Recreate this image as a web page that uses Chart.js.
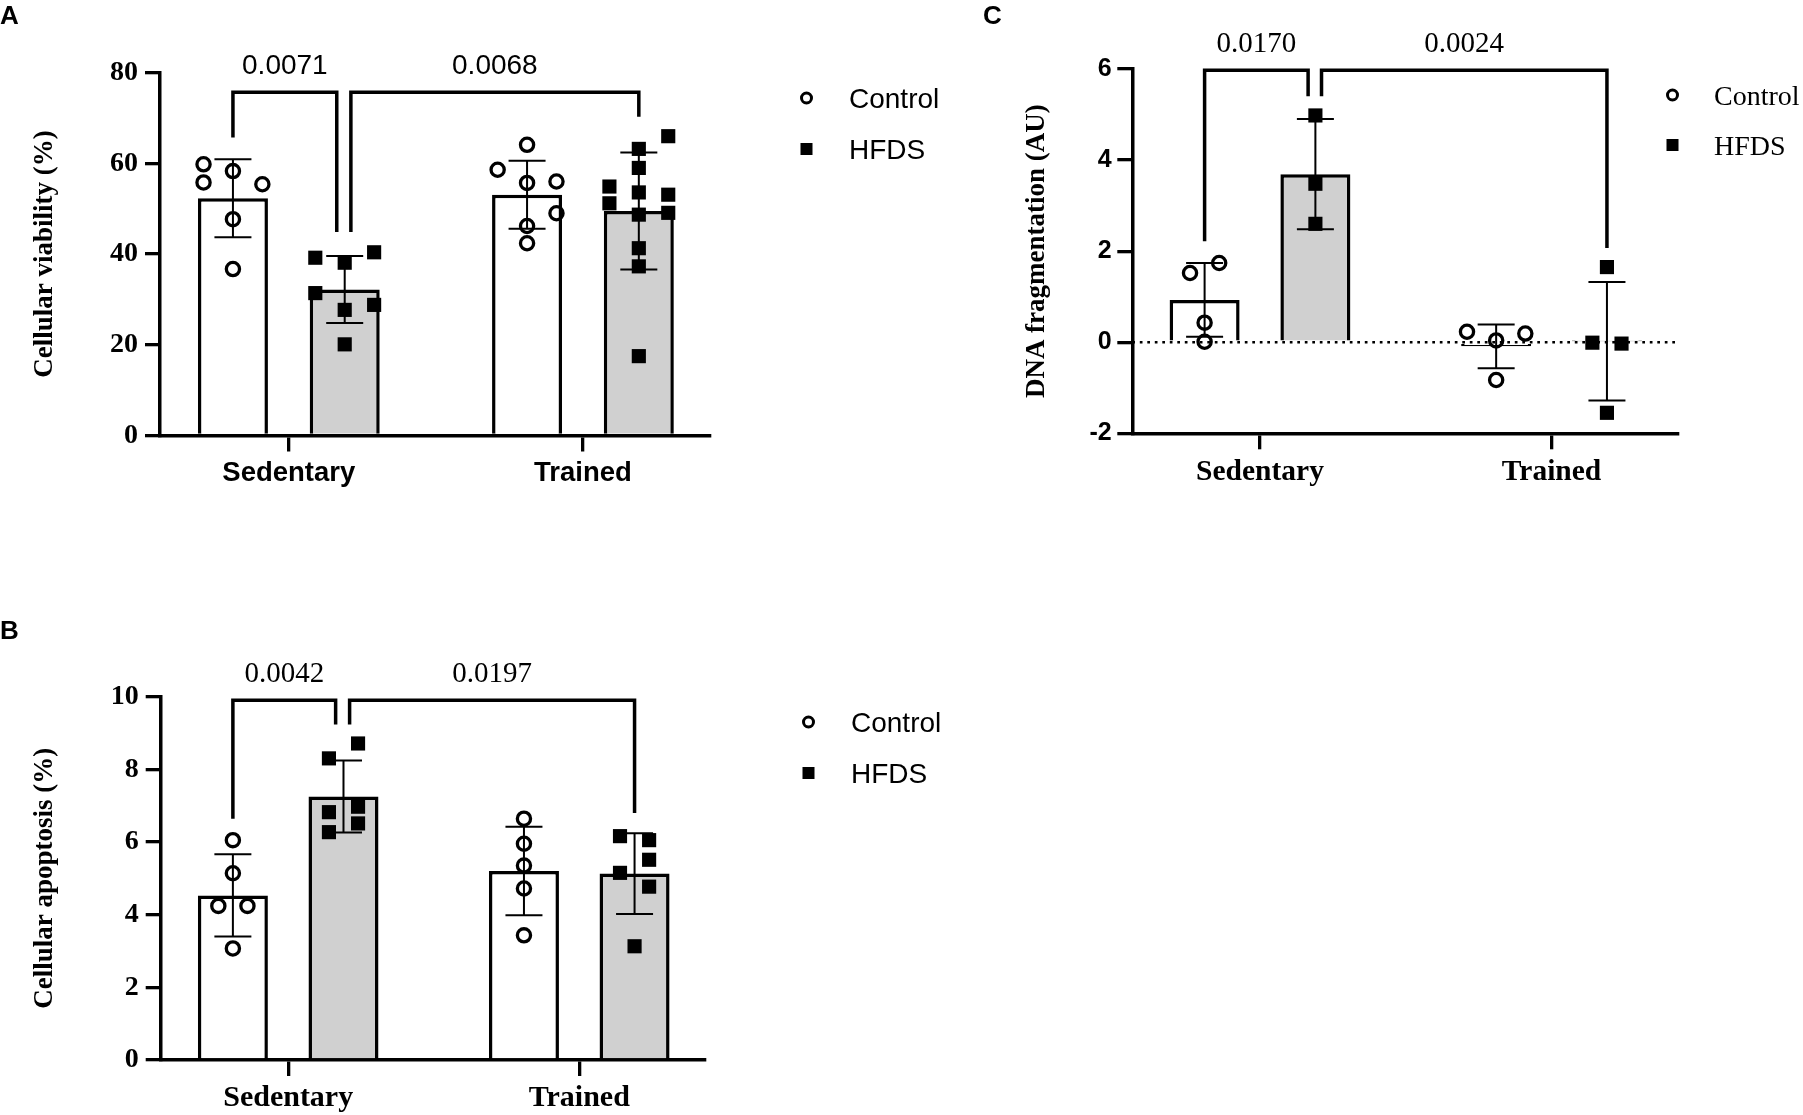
<!DOCTYPE html>
<html>
<head>
<meta charset="utf-8">
<script src="https://cdn.jsdelivr.net/npm/chart.js@4.4.1/dist/chart.umd.min.js"></script>
<style>
  body { margin: 0; background: #fff; width: 1803px; height: 1115px; position: relative; overflow: hidden; }
  canvas { position: absolute; }
</style>
</head>
<body>
<canvas id="chartA" width="1000" height="540" style="left:0;top:0"></canvas>
<canvas id="chartB" width="1000" height="575" style="left:0;top:540px"></canvas>
<canvas id="chartC" width="903" height="540" style="left:900px;top:0"></canvas>
<script>
const groups = ["Sedentary", "Trained"];
const seriesNames = ["Control", "HFDS"];

// A - cellular viability (%)
const viaCtrlMean = [52.3, 53.1];
const viaCtrlSD = [8.6, 7.5];
const viaHfdsMean = [32.2, 49.5];
const viaHfdsSD = [7.4, 12.9];
const viaCtrlPts = [[59.8, 55.8, 58.3, 55.4, 47.7, 36.7], [64.1, 58.6, 55.7, 56.0, 49.0, 46.2, 42.4]];
const viaCtrlCol = [[-2, -2, 0, 2, 0, 0], [0, -2, 0, 2, 2, 0, 0]];
const viaHfdsPts = [[39.2, 40.4, 38.1, 31.4, 28.8, 27.7, 20.1], [66.0, 63.2, 59.0, 54.9, 53.1, 53.6, 51.2, 48.7, 49.1, 41.3, 37.3, 17.5]];
const viaHfdsCol = [[-2, 2, 0, -2, 2, 0, 0], [2, 0, 0, -2, 2, 0, -2, 0, 2, 0, 0, 0]];
const viaBrackets = [[-0.19, 0.163, 75.7, 65.7, 44.9], [0.211, 1.19, 75.7, 44.9, 70.3]];
const viaP = ["0.0071", "0.0068"];

// B - cellular apoptosis (%)
const apoCtrlMean = [4.53, 5.20];
const apoCtrlSD = [1.13, 1.22];
const apoHfdsMean = [7.25, 5.13];
const apoHfdsSD = [0.99, 1.11];
const apoCtrlPts = [[6.05, 5.14, 4.24, 4.24, 3.07], [6.64, 5.95, 5.35, 4.72, 3.43]];
const apoCtrlCol = [[0, 0, -1, 1, 0], [0, 0, 0, 0, 0]];
const apoHfdsPts = [[8.71, 8.30, 6.82, 6.97, 6.51, 6.27], [6.16, 6.05, 5.51, 5.15, 4.77, 3.13]];
const apoHfdsCol = [[1, -1, -1, 1, 1, -1], [-1, 1, 1, -1, 1, 0]];
const apoBrackets = [[-0.19, 0.163, 9.9, 6.64, 9.23], [0.211, 1.19, 9.9, 9.23, 6.8]];
const apoP = ["0.0042", "0.0197"];

// C - DNA fragmentation (AU)
const dnaCtrlMean = [0.93, -0.09];
const dnaCtrlSD = [0.81, 0.48];
const dnaHfdsMean = [3.69, 0.02];
const dnaHfdsSD = [1.21, 1.30];
const dnaCtrlPts = [[1.74, 1.52, 0.43, 0.01], [0.23, 0.04, 0.19, -0.83]];
const dnaCtrlCol = [[1, -1, 0, 0], [-2, 0, 2, 0]];
const dnaHfdsPts = [[4.98, 3.48, 2.60], [1.65, -0.01, -0.03, -1.55]];
const dnaHfdsCol = [[0, 0, 0], [0, -1, 1, 0]];
const dnaBrackets = [[-0.19, 0.165, 5.97, 2.22, 5.4], [0.211, 1.19, 5.97, 5.4, 2.07]];
const dnaP = ["0.0170", "0.0024"];

const SANS = '"Liberation Sans", Arial, sans-serif';
const SERIF = '"Liberation Serif", "Times New Roman", serif';
const BAR_OFF = 0.19;   // offset of each bar from its group centre (x units)
const JIT = 0.05;       // width of one jitter column (x units)
const CAP = 37;         // error bar cap width (px)

function barData(means, off) {
  return means.map((m, i) => ({ x: i + off, y: m }));
}
function pointData(pts, cols, off) {
  const out = [];
  pts.forEach((g, i) => g.forEach((v, j) => out.push({ x: i + off + cols[i][j] * JIT, y: v })));
  return out;
}

const extras = {
  id: "extras",
  beforeDatasetsDraw(chart) {
    const o = chart.options.plugins.extras;
    if (!o.zeroLine) return;
    const { ctx, chartArea } = chart;
    const y0 = chart.scales.y.getPixelForValue(0);
    ctx.save();
    ctx.strokeStyle = "#000";
    ctx.lineWidth = 2.7;
    ctx.setLineDash([2.7, 4.8]);
    ctx.beginPath();
    ctx.moveTo(chartArea.left, y0);
    ctx.lineTo(chartArea.right, y0);
    ctx.stroke();
    ctx.restore();
  },
  afterDatasetDraw(chart, args) {
    if (args.meta.type !== "bar") return;
    const ds = chart.data.datasets[args.index];
    const ys = chart.scales.y;
    const ctx = chart.ctx;
    ctx.save();
    ctx.strokeStyle = "#000";
    ctx.lineWidth = 2;
    args.meta.data.forEach((bar, i) => {
      const m = ds.data[i].y, s = ds.sd[i];
      const top = ys.getPixelForValue(m + s), bot = ys.getPixelForValue(m - s);
      ctx.beginPath();
      ctx.moveTo(bar.x, top); ctx.lineTo(bar.x, bot);
      ctx.moveTo(bar.x - CAP / 2, top); ctx.lineTo(bar.x + CAP / 2, top);
      ctx.moveTo(bar.x - CAP / 2, bot); ctx.lineTo(bar.x + CAP / 2, bot);
      ctx.stroke();
    });
    ctx.restore();
  },
  afterDraw(chart) {
    const o = chart.options.plugins.extras;
    const ctx = chart.ctx;
    const xs = chart.scales.x, ys = chart.scales.y;
    ctx.save();
    // significance brackets
    ctx.strokeStyle = "#000";
    ctx.lineWidth = 3.5;
    ctx.lineJoin = "miter";
    ctx.fillStyle = "#000";
    ctx.font = o.pFont;
    ctx.textAlign = "center";
    ctx.textBaseline = "alphabetic";
    o.brackets.forEach((b, i) => {
      const x1 = xs.getPixelForValue(b[0]), x2 = xs.getPixelForValue(b[1]);
      const yt = ys.getPixelForValue(b[2]);
      ctx.beginPath();
      ctx.moveTo(x1, ys.getPixelForValue(b[3]));
      ctx.lineTo(x1, yt);
      ctx.lineTo(x2, yt);
      ctx.lineTo(x2, ys.getPixelForValue(b[4]));
      ctx.stroke();
      ctx.fillText(o.pvals[i], (x1 + x2) / 2, yt - 18.5);
    });
    // legend
    const lg = o.legend;
    ctx.lineWidth = 3;
    ctx.beginPath();
    ctx.arc(lg.x, lg.y1, 5, 0, Math.PI * 2);
    ctx.stroke();
    ctx.fillRect(lg.x - 6, lg.y2 - 6, 12, 12);
    ctx.font = lg.font;
    ctx.textAlign = "left";
    ctx.fillText(seriesNames[0], lg.tx, lg.y1 + 9.5);
    ctx.fillText(seriesNames[1], lg.tx, lg.y2 + 9.5);
    // panel letter
    ctx.font = "bold 26px " + SANS;
    ctx.fillText(o.letter[0], o.letter[1], o.letter[2]);
    ctx.restore();
  }
};

function makePanel(id, p) {
  const pointsOpts = { type: "scatter", clip: false, pointBorderColor: "#000" };
  new Chart(document.getElementById(id), {
    type: "bar",
    data: {
      datasets: [
        { type: "bar", label: seriesNames[0], data: barData(p.ctrlMean, -BAR_OFF), sd: p.ctrlSD,
          backgroundColor: "#ffffff", borderColor: "#000", borderWidth: 3.5,
          grouped: false, maxBarThickness: 70, clip: false, order: 3 },
        { type: "bar", label: seriesNames[1], data: barData(p.hfdsMean, BAR_OFF), sd: p.hfdsSD,
          backgroundColor: "#d0d0d0", borderColor: "#000", borderWidth: 3.5,
          grouped: false, maxBarThickness: 70, clip: false, order: 2 },
        Object.assign({ label: seriesNames[0], data: pointData(p.ctrlPts, p.ctrlCol, -BAR_OFF),
          pointStyle: "circle", pointRadius: 6.6, pointBorderWidth: 3.3,
          pointBackgroundColor: "rgba(0,0,0,0)", order: 1 }, pointsOpts),
        Object.assign({ label: seriesNames[1], data: pointData(p.hfdsPts, p.hfdsCol, BAR_OFF),
          pointStyle: "rect", pointRadius: 10, pointBorderWidth: 0,
          pointBackgroundColor: "#000", order: 0 }, pointsOpts)
      ]
    },
    options: {
      responsive: false,
      animation: false,
      devicePixelRatio: 1,
      layout: { padding: p.padding },
      plugins: {
        legend: { display: false },
        tooltip: { enabled: false },
        extras: { brackets: p.brackets, pvals: p.pvals, pFont: p.pFont, legend: p.legend,
                  letter: p.letter, zeroLine: p.zeroLine }
      },
      scales: {
        x: {
          type: "linear", min: -0.438, max: 1.432, offset: false,
          afterBuildTicks: (s) => { s.ticks = groups.map((g, i) => ({ value: i })); },
          afterFit: (s) => { s.height = p.xHeight; },
          ticks: { autoSkip: false, color: "#000", font: p.catFont, padding: p.catPad,
                   maxRotation: 0, callback: (v) => groups[v] },
          grid: { offset: false, drawOnChartArea: false, drawTicks: true, tickLength: 16, color: "#000", lineWidth: 3.3 },
          border: { color: "#000", width: 3.5 }
        },
        y: {
          min: p.yMin, max: p.yMax,
          afterFit: (s) => { s.width = p.yWidth; },
          ticks: { stepSize: p.yStep, color: "#000", font: p.tickFont, padding: p.tickPad },
          grid: { drawOnChartArea: false, drawTicks: true, tickLength: 15, color: "#000", lineWidth: 3.3 },
          border: { color: "#000", width: 3.5 },
          title: { display: true, text: p.title, color: "#000",
                   font: { family: SERIF, weight: "bold", size: 27 }, padding: { top: p.titlePad, bottom: 0 } }
        }
      }
    },
    plugins: [extras]
  });
}

makePanel("chartA", {
  ctrlMean: viaCtrlMean, ctrlSD: viaCtrlSD, hfdsMean: viaHfdsMean, hfdsSD: viaHfdsSD,
  ctrlPts: viaCtrlPts, ctrlCol: viaCtrlCol, hfdsPts: viaHfdsPts, hfdsCol: viaHfdsCol,
  brackets: viaBrackets, pvals: viaP, pFont: "28px " + SANS,
  yMin: 0, yMax: 80, yStep: 20, title: "Cellular viability (%)", titlePad: 29,
  padding: { top: 72.7, right: 290, left: 0, bottom: 0 }, yWidth: 160, xHeight: 104.5,
  tickFont: { family: SERIF, weight: "bold", size: 28 }, tickPad: 7,
  catFont: { family: SANS, weight: "bold", size: 27.5, lineHeight: 1 }, catPad: 8.5,
  legend: { x: 806.5, y1: 98, y2: 149, tx: 849, font: "28px " + SANS },
  letter: ["A", 0, 24], zeroLine: false
});

makePanel("chartB", {
  ctrlMean: apoCtrlMean, ctrlSD: apoCtrlSD, hfdsMean: apoHfdsMean, hfdsSD: apoHfdsSD,
  ctrlPts: apoCtrlPts, ctrlCol: apoCtrlCol, hfdsPts: apoHfdsPts, hfdsCol: apoHfdsCol,
  brackets: apoBrackets, pvals: apoP, pFont: "29px " + SERIF,
  yMin: 0, yMax: 10, yStep: 2, title: "Cellular apoptosis (%)", titlePad: 29,
  padding: { top: 156.6, right: 295, left: 0, bottom: 0 }, yWidth: 160.7, xHeight: 55,
  tickFont: { family: SERIF, weight: "bold", size: 28 }, tickPad: 7,
  catFont: { family: SERIF, weight: "bold", size: 30, lineHeight: 1 }, catPad: 7,
  legend: { x: 808.5, y1: 182, y2: 233, tx: 851, font: "28px " + SANS },
  letter: ["B", 0, 99], zeroLine: false
});

makePanel("chartC", {
  ctrlMean: dnaCtrlMean, ctrlSD: dnaCtrlSD, hfdsMean: dnaHfdsMean, hfdsSD: dnaHfdsSD,
  ctrlPts: dnaCtrlPts, ctrlCol: dnaCtrlCol, hfdsPts: dnaHfdsPts, hfdsCol: dnaHfdsCol,
  brackets: dnaBrackets, pvals: dnaP, pFont: "29px " + SERIF,
  yMin: -2, yMax: 6, yStep: 2, title: "DNA fragmentation (AU)", titlePad: 121,
  padding: { top: 69, right: 125.5, left: 0, bottom: 0 }, yWidth: 232.3, xHeight: 106.7,
  tickFont: { family: SANS, weight: "bold", size: 25 }, tickPad: 5.6,
  catFont: { family: SERIF, weight: "bold", size: 29.5, lineHeight: 1 }, catPad: 8.6,
  legend: { x: 772.5, y1: 95, y2: 145, tx: 814, font: "28px " + SERIF },
  letter: ["C", 83, 24], zeroLine: true
});
</script>
</body>
</html>
